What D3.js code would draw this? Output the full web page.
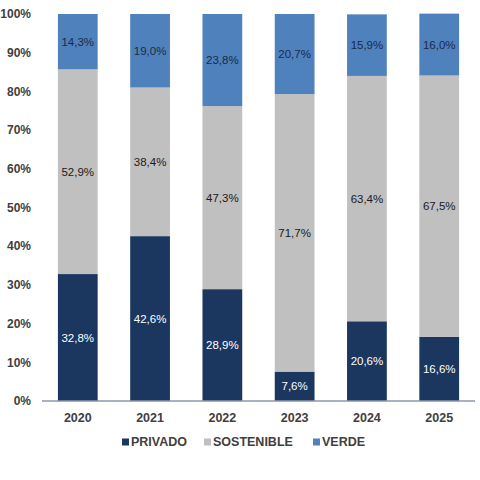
<!DOCTYPE html>
<html>
<head>
<meta charset="utf-8">
<script src="https://cdn.jsdelivr.net/npm/d3@7/dist/d3.min.js"></script>
<style>
  body { margin: 0; background: #fff; }
  svg { display: block; font-family: "Liberation Sans", Arial, sans-serif; }
</style>
</head>
<body>
<div id="chart"></div>
<script>
const years = ["2020", "2021", "2022", "2023", "2024", "2025"];
const privado = [32.8, 42.6, 28.9, 7.6, 20.6, 16.6];
const sostenible = [52.9, 38.4, 47.3, 71.7, 63.4, 67.5];
const verde = [14.3, 19.0, 23.8, 20.7, 15.9, 16.0];
const seriesNames = ["PRIVADO", "SOSTENIBLE", "VERDE"];
const yTicks = [0, 10, 20, 30, 40, 50, 60, 70, 80, 90, 100];

const width = 480, height = 480;
const colors = ["#1b365f", "#c0c0c0", "#4f81bd"];
const textColors = ["#ffffff", "#1a1a1a", "#1b2a4a"];

const rows = years.map((y, i) => ({ year: y, PRIVADO: privado[i], SOSTENIBLE: sostenible[i], VERDE: verde[i] }));
const stack = d3.stack().keys(seriesNames)(rows);

const svg = d3.select("#chart").append("svg")
  .attr("width", width)
  .attr("height", height);

const x = d3.scaleBand().domain(years).range([42, 475]).paddingInner(0.45).paddingOuter(0.22);
const y = d3.scaleLinear().domain([0, 100]).range([401, 14]);

// y tick labels
svg.append("g").selectAll("text")
  .data(yTicks)
  .join("text")
  .attr("x", 31)
  .attr("y", d => y(d))
  .attr("dy", "0.35em")
  .attr("text-anchor", "end")
  .style("font-size", "12px")
  .style("font-weight", "bold")
  .style("fill", "#404040")
  .text(d => d + "%");

// bars
const layer = svg.append("g").selectAll("g")
  .data(stack)
  .join("g")
  .attr("fill", (d, i) => colors[i]);

layer.selectAll("rect")
  .data(d => d)
  .join("rect")
  .attr("x", d => x(d.data.year))
  .attr("width", x.bandwidth())
  .attr("y", d => y(d[1]))
  .attr("height", d => y(d[0]) - y(d[1]));

// value labels
stack.forEach((s, si) => {
  svg.append("g").selectAll("text")
    .data(s)
    .join("text")
    .attr("x", d => x(d.data.year) + x.bandwidth() / 2)
    .attr("y", d => (y(d[0]) + y(d[1])) / 2)
    .attr("dy", "0.35em")
    .attr("text-anchor", "middle")
    .style("font-size", "11.5px")
    .style("fill", textColors[si])
    .text(d => (d[1] - d[0]).toFixed(1).replace(".", ",") + "%");
});

// axis line
svg.append("line")
  .attr("x1", 42).attr("x2", 475)
  .attr("y1", y(0)).attr("y2", y(0))
  .attr("stroke", "#8c96a8")
  .attr("stroke-width", 1.5);

// year labels
svg.append("g").selectAll("text")
  .data(years)
  .join("text")
  .attr("x", d => x(d) + x.bandwidth() / 2)
  .attr("y", 418)
  .attr("dy", "0.35em")
  .attr("text-anchor", "middle")
  .style("font-size", "12.5px")
  .style("font-weight", "bold")
  .style("fill", "#404040")
  .text(d => d);

// legend
const legendX = [122, 204, 313];
const legend = svg.append("g").selectAll("g")
  .data(seriesNames)
  .join("g")
  .attr("transform", (d, i) => `translate(${legendX[i]},442)`);

legend.append("rect")
  .attr("x", 0).attr("y", -3.5)
  .attr("width", 7).attr("height", 7)
  .attr("fill", (d, i) => colors[i]);

legend.append("text")
  .attr("x", 9)
  .attr("dy", "0.35em")
  .style("font-size", "12.5px")
  .style("font-weight", "bold")
  .style("fill", "#404040")
  .text(d => d);
</script>
</body>
</html>
